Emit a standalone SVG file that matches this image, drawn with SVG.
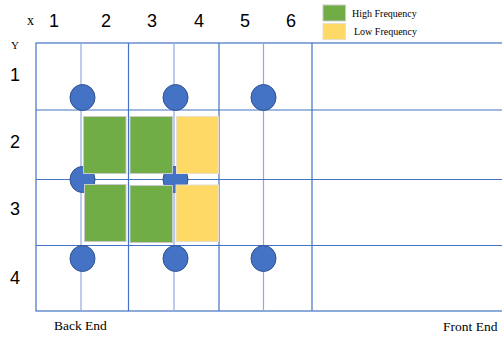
<svg xmlns="http://www.w3.org/2000/svg" width="502" height="338" viewBox="0 0 502 338">
<style>
.g{stroke:#4472C4;stroke-width:1.2;fill:none}
.gl{stroke:#8FAADC;stroke-width:1.2;fill:none}
.dot{fill:#4472C4;stroke:#2F528F;stroke-width:1}
.hi{fill:#70AD47;stroke:#C9C9C9;stroke-width:1}
.lo{fill:#FFD966;stroke:#E8E0C8;stroke-width:1}
.num{font-family:"Liberation Sans",Arial,sans-serif;font-size:18px;fill:#000}
.ser{font-family:"Liberation Serif","Times New Roman",serif;fill:#000}
</style>
<g id="grid">
<rect class="g" x="36" y="43" width="470" height="268"/>
<line class="gl" x1="81" y1="43" x2="81" y2="311"/>
<line class="g" x1="128.5" y1="43" x2="128.5" y2="311"/>
<line class="gl" x1="174" y1="43" x2="174" y2="311"/>
<line class="g" x1="219" y1="43" x2="219" y2="311"/>
<line class="gl" x1="263.5" y1="43" x2="263.5" y2="311"/>
<line class="g" x1="312" y1="43" x2="312" y2="311"/>
<line class="g" x1="36" y1="110" x2="502" y2="110"/>
<line class="g" x1="36" y1="179.5" x2="502" y2="179.5"/>
<line class="g" x1="36" y1="245.5" x2="502" y2="245.5"/>
</g>
<g id="axis-labels">
<text class="ser" x="27" y="25" font-size="14">x</text>
<text class="num" x="49" y="27">1</text>
<text class="num" x="101" y="27">2</text>
<text class="num" x="147" y="27">3</text>
<text class="num" x="194" y="27">4</text>
<text class="num" x="240" y="27">5</text>
<text class="num" x="286" y="27">6</text>
<text class="ser" x="11" y="49" font-size="11">Y</text>
<text class="num" x="10" y="81">1</text>
<text class="num" x="10" y="148">2</text>
<text class="num" x="10" y="215">3</text>
<text class="num" x="10" y="284">4</text>
</g>
<g id="dots">
<ellipse class="dot" cx="82.5" cy="97.5" rx="12.5" ry="13"/>
<ellipse class="dot" cx="175.5" cy="97.5" rx="12.5" ry="13"/>
<ellipse class="dot" cx="263.5" cy="97.5" rx="12.5" ry="13"/>
<ellipse class="dot" cx="82.5" cy="179.5" rx="12.5" ry="13"/>
<ellipse class="dot" cx="175.5" cy="179.5" rx="12.5" ry="13"/>
<ellipse class="dot" cx="82.5" cy="258.5" rx="12.5" ry="13"/>
<ellipse class="dot" cx="175.5" cy="258.5" rx="12.5" ry="13"/>
<ellipse class="dot" cx="263.5" cy="258.5" rx="12.5" ry="13"/>
</g>
<g id="blocks">
<rect class="hi" x="83.5" y="116.5" width="42.5" height="57"/>
<rect class="hi" x="130" y="116.5" width="42.5" height="57"/>
<rect class="lo" x="176.5" y="116.5" width="42" height="57"/>
<rect class="hi" x="84.5" y="184.5" width="41.5" height="57"/>
<rect class="hi" x="130" y="185.5" width="42.5" height="57"/>
<rect class="lo" x="176" y="185" width="42.5" height="56.5"/>
</g>
<g id="legend">
<rect x="323" y="5" width="22.5" height="16" fill="#70AD47" stroke="#C9C9C9" stroke-width="1"/>
<rect x="323" y="23.5" width="22.5" height="16" fill="#FFD966" stroke="#E8E0C8" stroke-width="1"/>
<text class="ser" x="352" y="17" font-size="10">High Frequency</text>
<text class="ser" x="354" y="35" font-size="10">Low Frequency</text>
</g>
<g id="ends">
<text class="ser" x="54" y="330" font-size="13.5">Back End</text>
<text class="ser" x="443" y="331" font-size="13.5">Front End</text>
</g>
</svg>
